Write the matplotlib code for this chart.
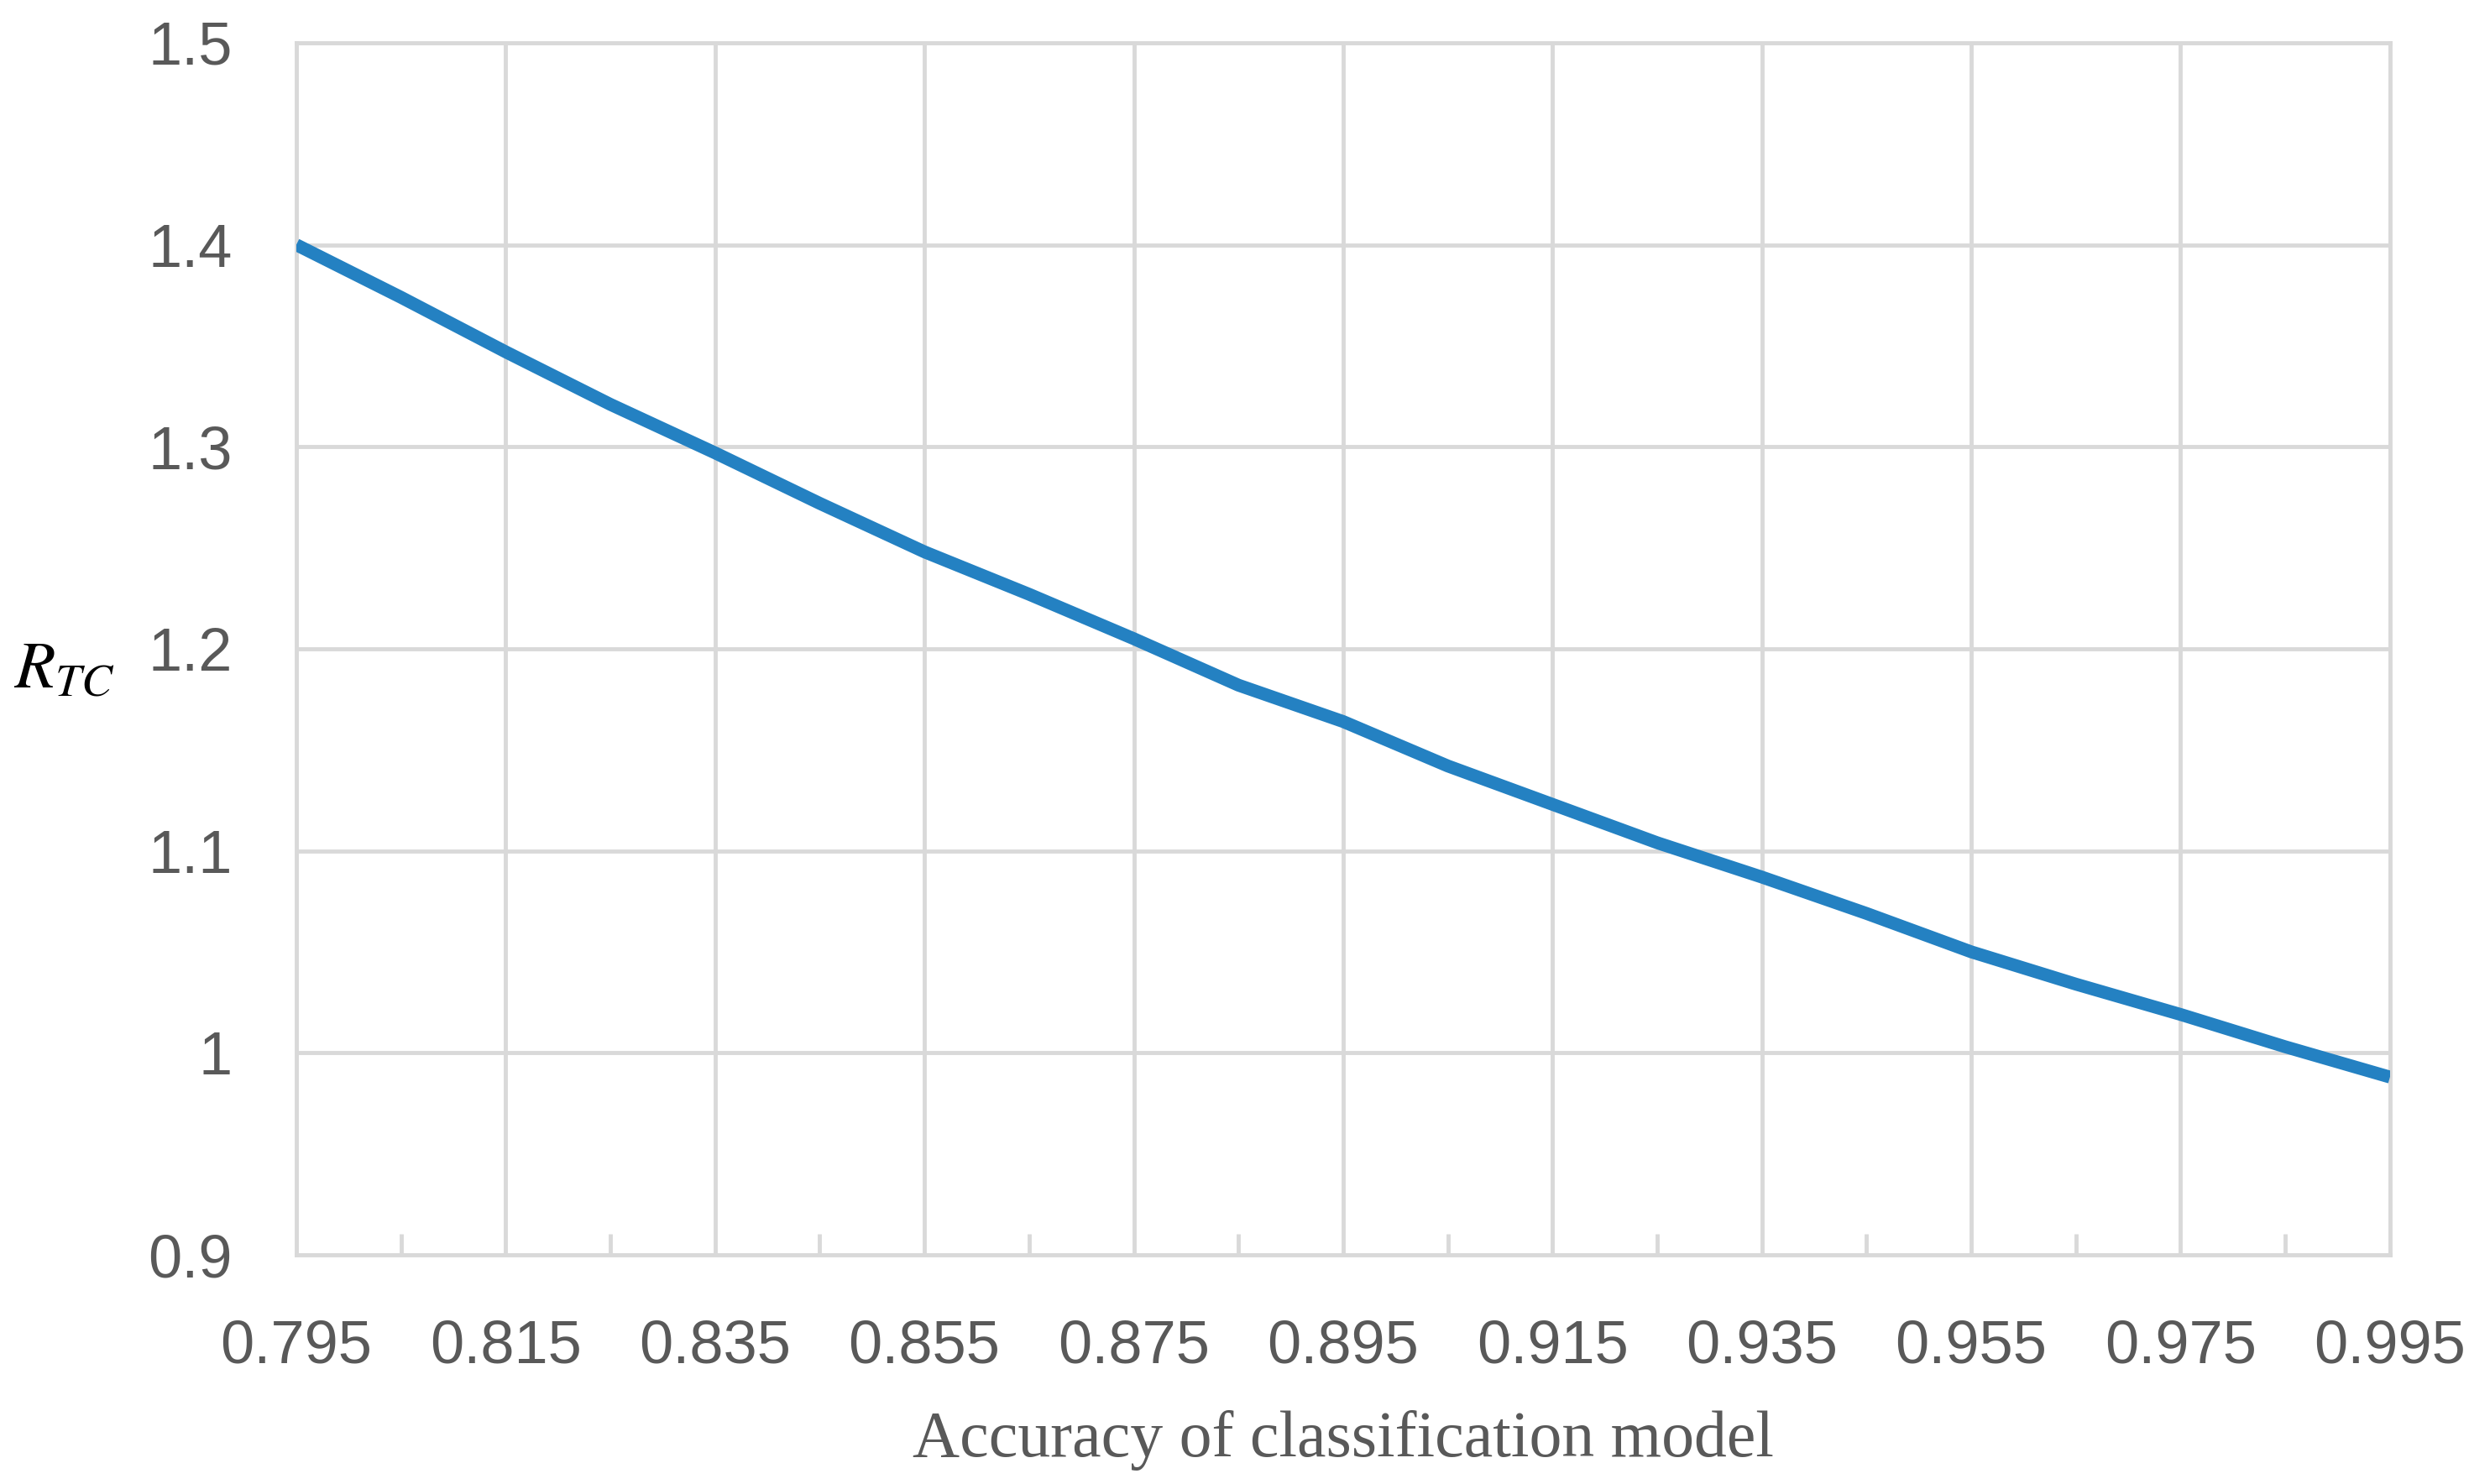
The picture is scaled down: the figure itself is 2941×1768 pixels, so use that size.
import matplotlib
matplotlib.use('Agg')
import matplotlib.pyplot as plt
from matplotlib import font_manager
from matplotlib.ticker import FixedLocator

# Data
accuracy = [0.795, 0.805, 0.815, 0.825, 0.835, 0.845, 0.855, 0.865, 0.875, 0.885,
            0.895, 0.905, 0.915, 0.925, 0.935, 0.945, 0.955, 0.965, 0.975, 0.985, 0.995]
r_tc = [1.400, 1.374, 1.347, 1.321, 1.297, 1.272, 1.248, 1.227, 1.205, 1.182,
        1.164, 1.142, 1.123, 1.104, 1.087, 1.069, 1.050, 1.034, 1.019, 1.003, 0.988]

x_ticks = [0.795, 0.815, 0.835, 0.855, 0.875, 0.895, 0.915, 0.935, 0.955, 0.975, 0.995]
x_minor = [0.805, 0.825, 0.845, 0.865, 0.885, 0.905, 0.925, 0.945, 0.965, 0.985]
y_ticks = [0.9, 1.0, 1.1, 1.2, 1.3, 1.4, 1.5]
y_labels = ['0.9', '1', '1.1', '1.2', '1.3', '1.4', '1.5']

names = {f.name for f in font_manager.fontManager.ttflist}
tick_font = 'Liberation Sans Narrow' if 'Liberation Sans Narrow' in names else 'Liberation Sans'

grid_col = '#d9d9d9'
text_col = '#595959'
line_col = '#2481c2'

fig = plt.figure(figsize=(29.41, 17.68), dpi=100)
ax = fig.add_axes([0.120, 0.1544, 0.848, 0.8168])

ax.plot(accuracy, r_tc, color=line_col, linewidth=11, solid_capstyle='butt', zorder=3)

ax.set_xlim(0.795, 0.995)
ax.set_ylim(0.9, 1.5)
ax.set_xticks(x_ticks)
ax.set_xticklabels([f'{v:.3f}' for v in x_ticks])
ax.xaxis.set_minor_locator(FixedLocator(x_minor))
ax.set_yticks(y_ticks)
ax.set_yticklabels(y_labels)

ax.grid(True, which='major', color=grid_col, linewidth=3.5, zorder=0)
ax.set_axisbelow(True)
for s in ax.spines.values():
    s.set_color(grid_col)
    s.set_linewidth(3.5)

ax.tick_params(axis='both', which='major', length=0, pad=55, labelsize=52,
               labelcolor=text_col)
ax.tick_params(axis='x', which='minor', direction='in', length=18, width=3.5,
               color=grid_col)
for lab in ax.get_xticklabels() + ax.get_yticklabels():
    lab.set_fontfamily(tick_font)

ax.set_xlabel('Accuracy of classification model', fontsize=56, color=text_col,
              family='Liberation Serif', labelpad=30)

plt.rcParams['mathtext.fontset'] = 'stix'
fig.text(0.026, 0.549, r'$R_{TC}$', fontsize=57, color='black',
         ha='center', va='center')

fig.savefig('out.png', dpi=100, facecolor='white')
